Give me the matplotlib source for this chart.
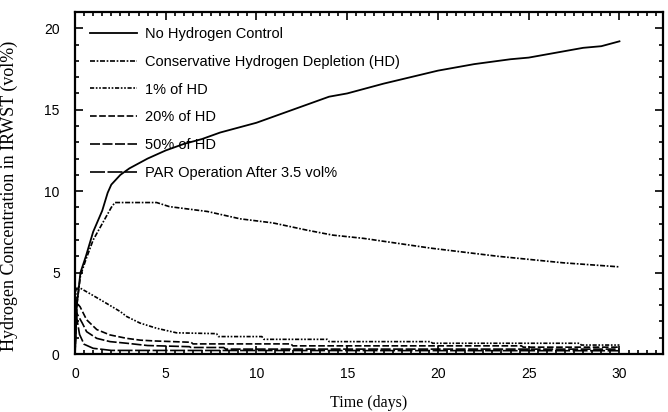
import matplotlib
matplotlib.use("Agg")
import matplotlib.pyplot as plt
from matplotlib.ticker import MultipleLocator

# ---- data ----
t_none = [0, 0.1, 0.3, 0.6, 1.0, 1.5, 1.8, 2.0, 2.5, 3, 4, 5, 6, 7, 8, 10, 12, 13, 14, 15, 17, 20, 22, 24, 25, 26, 27, 28, 29, 30]
v_none = [0, 3.0, 5.0, 6.0, 7.5, 8.8, 9.9, 10.4, 11.0, 11.4, 12.0, 12.5, 12.9, 13.2, 13.6, 14.2, 15.0, 15.4, 15.8, 16.0, 16.6, 17.4, 17.8, 18.1, 18.2, 18.4, 18.6, 18.8, 18.9, 19.2]

t_cons = [0, 0.1, 0.3, 0.6, 1.0, 1.5, 2.0, 2.2, 3.0, 4.5, 5.2, 7.3, 9.1, 10.9, 12.8, 14.2, 15.9, 19.6, 23.3, 26.9, 30]
v_cons = [0, 3.0, 4.8, 5.8, 7.0, 8.0, 9.0, 9.3, 9.3, 9.3, 9.05, 8.75, 8.3, 8.05, 7.6, 7.3, 7.1, 6.5, 6.0, 5.6, 5.35]

t_1pct = [0, 0.05, 0.28, 0.83, 1.6, 2.5, 2.85, 3.58, 4.5, 5.6, 7.8, 7.9, 10.3, 10.4, 13.9, 14.0, 19.6, 19.7, 27.8, 27.9, 30]
v_1pct = [0, 4.1, 4.05, 3.7, 3.2, 2.6, 2.3, 1.9, 1.58, 1.3, 1.25, 1.07, 1.07, 0.9, 0.9, 0.76, 0.76, 0.66, 0.66, 0.55, 0.55]

t_20pct = [0, 0.05, 0.28, 0.64, 1.2, 1.93, 2.85, 3.6, 4.4, 6.4, 6.5, 11.9, 12.0, 24.6, 24.7, 30]
v_20pct = [0, 3.2, 2.9, 2.1, 1.5, 1.17, 0.96, 0.85, 0.8, 0.72, 0.62, 0.62, 0.5, 0.5, 0.42, 0.42]

t_50pct = [0, 0.05, 0.4, 0.64, 1.2, 1.93, 2.85, 4.0, 6.3, 6.4, 8.2, 8.3, 30]
v_50pct = [0, 2.6, 1.9, 1.37, 0.96, 0.76, 0.66, 0.52, 0.45, 0.4, 0.4, 0.3, 0.3]

t_par = [0, 0.03, 0.1, 0.25, 0.5, 1.0, 2.0, 30]
v_par = [0, 3.5, 2.2, 1.2, 0.6, 0.35, 0.22, 0.2]

labels = ["No Hydrogen Control", "Conservative Hydrogen Depletion (HD)", "1% of HD",
          "20% of HD", "50% of HD", "PAR Operation After 3.5 vol%"]

x_label = "Time (days)"
y_label = "Hydrogen Concentration in IRWST (vol%)"

# ---- figure ----
fig = plt.figure(figsize=(6.68, 4.12), dpi=100)
ax = fig.add_axes([75/668, 58/412, 588/668, 342/412])

sans = "Liberation Sans"
serif = "Liberation Serif"

styles = [
    dict(linestyle="-", linewidth=1.3),
    dict(linestyle=(0, (3, 1, 1, 1)), linewidth=1.2),
    dict(linestyle=(0, (2.5, 1, 1, 1, 1, 1)), linewidth=1.2),
    dict(linestyle=(0, (4, 1.5)), linewidth=1.2),
    dict(linestyle=(0, (6, 1.5)), linewidth=1.2),
    dict(linestyle=(0, (9, 1.5)), linewidth=1.2),
]
series = [(t_none, v_none), (t_cons, v_cons), (t_1pct, v_1pct),
          (t_20pct, v_20pct), (t_50pct, v_50pct), (t_par, v_par)]

for (tt, vv), lab, st in zip(series, labels, styles):
    ax.plot(tt, vv, color="black", label=lab, **st)

ax.set_xlim(0, 32.4)
ax.set_ylim(0, 21)
ax.xaxis.set_major_locator(MultipleLocator(5))
ax.xaxis.set_minor_locator(MultipleLocator(0.5))
ax.yaxis.set_major_locator(MultipleLocator(5))
ax.yaxis.set_minor_locator(MultipleLocator(1))
ax.set_xticks([0, 5, 10, 15, 20, 25, 30])

ax.tick_params(which="both", direction="in", top=True, right=True, width=1.2, color="black")
ax.tick_params(which="major", length=6, labelsize=10)
ax.tick_params(axis="y", which="major", pad=11)
ax.tick_params(axis="x", which="major", pad=9)
ax.tick_params(which="minor", length=3)
for lab in ax.get_xticklabels() + ax.get_yticklabels():
    lab.set_fontfamily(sans)
for sp in ax.spines.values():
    sp.set_linewidth(1.6)

ax.set_xlabel(x_label, fontfamily=serif, fontsize=11.5)
ax.set_ylabel(y_label, fontfamily=serif, fontsize=13)
ax.yaxis.set_label_coords(-0.097, 0.462)
ax.xaxis.set_label_coords(0.5, -0.12)

leg = ax.legend(loc="upper left", bbox_to_anchor=(0.003, 0.995), frameon=False,
                handlelength=3.25, handletextpad=0.5, labelspacing=0.95,
                prop={"family": sans, "size": 10.5})

fig.savefig("out.png", dpi=100)
